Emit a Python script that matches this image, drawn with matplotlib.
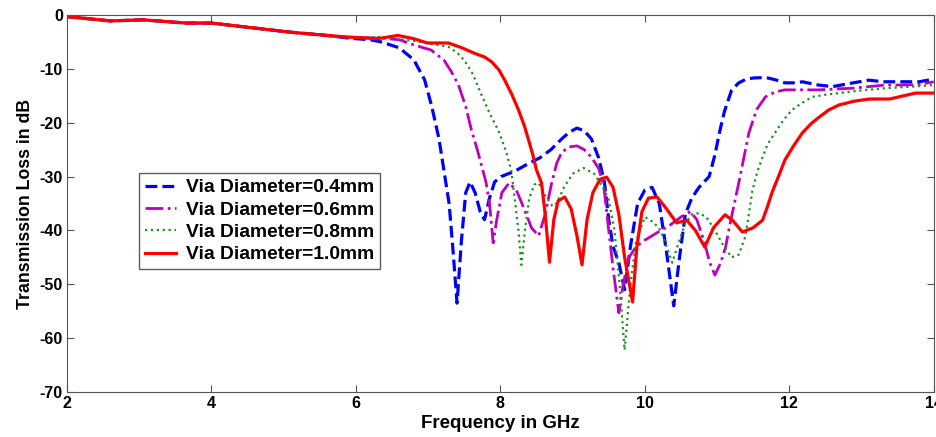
import numpy as np
from matplotlib import pyplot as plt

plt.rcParams['font.family'] = ['Liberation Sans', 'DejaVu Sans']
plt.rcParams['font.weight'] = 'bold'
plt.rcParams['axes.unicode_minus'] = False

# frequency (GHz) and transmission loss (dB)
f_04 = [2.0, 2.6, 3.05, 3.65, 4.0, 4.45, 5.1, 5.6, 5.9, 6.2, 6.35, 6.6, 6.8, 6.95, 7.05, 7.15, 7.22,
        7.29, 7.34, 7.40, 7.46, 7.52, 7.58, 7.65, 7.72, 7.78, 7.85, 7.92, 8.01, 8.2, 8.4, 8.55, 8.7,
        8.85, 8.95, 9.06, 9.16, 9.26, 9.36, 9.44, 9.5, 9.56, 9.64, 9.72, 9.8, 9.9, 10.0, 10.1, 10.2,
        10.3, 10.4, 10.48, 10.56, 10.65, 10.75, 10.89, 10.97, 11.03, 11.1, 11.2, 11.3, 11.39, 11.5,
        11.67, 11.8, 11.94, 12.1, 12.18, 12.4, 12.6, 12.8, 13.1, 13.3, 13.57, 13.8, 14.0]
s_04 = [-0.3, -1.1, -0.9, -1.5, -1.5, -2.2, -3.2, -3.8, -4.3, -4.6, -5.0, -6.1, -8.3, -12, -17, -23, -29,
        -35, -43, -53.5, -42, -33, -31, -33, -36.5, -38, -34, -31, -30, -29, -27.5, -26.5, -25,
        -23, -21.8, -21.0, -21.5, -23, -26.5, -31, -38, -43, -46, -51, -43, -35, -32.5, -32, -35,
        -44, -54, -45, -37, -34, -32, -30, -26, -22, -18, -14, -12.6, -12, -11.7,
        -11.6, -12, -12.6, -12.6, -12.4, -13, -13.3, -12.8, -12.1, -12.4, -12.4, -12.4, -11.9]

f_06 = [2.0, 2.6, 3.05, 3.65, 4.0, 4.45, 5.1, 5.6, 5.9, 6.35, 6.6, 6.81, 7.04, 7.22, 7.32, 7.42, 7.52,
        7.6, 7.68, 7.74, 7.8, 7.85, 7.9, 7.95, 8.02, 8.12, 8.22, 8.33, 8.43, 8.53, 8.62, 8.71, 8.78,
        8.85, 8.95, 9.06, 9.16, 9.26, 9.36, 9.43, 9.5, 9.56, 9.64, 9.7, 9.78, 9.88, 10.0, 10.1, 10.22,
        10.35, 10.5, 10.63, 10.72, 10.82, 10.9, 10.97, 11.05, 11.12, 11.17, 11.3, 11.44, 11.55, 11.67,
        11.8, 11.94, 12.2, 12.42, 12.7, 12.88, 13.1, 13.33, 13.6, 13.8, 14.0]
s_06 = [-0.3, -1.1, -0.9, -1.5, -1.5, -2.2, -3.2, -3.8, -4.2, -4.3, -4.6, -5.6, -6.5, -8.4, -10.5, -13, -17,
        -21.4, -25, -28, -31, -35, -42.3, -38, -33, -31.2, -32.5, -36, -39.5, -41, -37, -31.2, -27.5,
        -25.5, -24.5, -24.3, -25, -26.4, -28.5, -31.6, -40, -47, -55.3, -50, -45, -43, -41.8, -41, -40,
        -39, -37.5, -36.5, -38, -42, -46, -48.3, -46, -43, -39.4, -31.2, -21.9, -17.5, -15.2,
        -14.3, -13.9, -13.9, -13.9, -13.7, -13.6, -13.3, -13, -13, -12.9, -12.4]

f_08 = [2.0, 2.6, 3.05, 3.65, 4.0, 4.45, 5.1, 5.6, 5.9, 6.35, 6.8, 7.28, 7.4, 7.5, 7.62, 7.74, 7.86,
        7.97, 8.07, 8.15, 8.2, 8.25, 8.29, 8.34, 8.4, 8.47, 8.53, 8.62, 8.72, 8.78, 8.88, 9.0, 9.15,
        9.3, 9.42, 9.5, 9.58, 9.65, 9.72, 9.8, 9.88, 10.0, 10.12, 10.22, 10.3, 10.38, 10.45, 10.55,
        10.65, 10.75, 10.85, 10.97, 11.07, 11.2, 11.3, 11.39, 11.44, 11.49, 11.56, 11.63, 11.7, 11.8,
        11.92, 12.04, 12.18, 12.32, 12.5, 12.69, 13.0, 13.33, 13.7, 14.0]
s_08 = [-0.3, -1.1, -0.9, -1.5, -1.5, -2.2, -3.2, -3.8, -4.2, -4.1, -4.8, -5.9, -7, -8.4, -11, -14.9, -18.5,
        -21.4, -25, -28.8, -34.3, -40, -46.4, -40, -34, -31.5, -31.2, -33.5, -35.5, -35, -32, -29.5, -28.4,
        -29.5, -32, -34.3, -40, -50, -62.2, -50, -42, -37.5, -38.5, -40, -43, -46, -43, -39,
        -37, -36.8, -37.5, -40, -42.4, -45, -44.5, -41.2, -37, -32.5, -29, -26.4, -24, -21.9,
        -19.5, -17.6, -16.3, -15.2, -14.8, -14.5, -14, -13.6, -13.3, -13]

f_10 = [2.0, 2.6, 3.05, 3.65, 4.0, 4.45, 5.1, 5.6, 5.9, 6.3, 6.58, 6.8, 6.99, 7.28, 7.45, 7.64, 7.78,
        7.88, 7.98, 8.06, 8.16, 8.25, 8.33, 8.39, 8.45, 8.5, 8.57, 8.62, 8.68, 8.74, 8.8, 8.89, 8.98,
        9.06, 9.13, 9.2, 9.28, 9.38, 9.47, 9.56, 9.64, 9.72, 9.83, 9.89, 9.96, 10.05, 10.17, 10.3,
        10.44, 10.58, 10.7, 10.83, 10.95, 11.11, 11.22, 11.35, 11.5, 11.63, 11.7, 11.76, 11.85, 11.94,
        12.05, 12.18, 12.3, 12.42, 12.55, 12.69, 12.9, 13.11, 13.39, 13.55, 13.75, 14.0]
s_10 = [-0.3, -1.1, -0.9, -1.5, -1.5, -2.2, -3.2, -3.8, -4.1, -4.4, -3.8, -4.4, -5.2, -5.2, -6, -7.1, -7.8,
        -8.7, -10.2, -12.1, -14.8, -17.6, -20.5, -23.2, -26, -28.8, -31.2, -37, -45.9, -38, -34.5, -33.8, -36,
        -41, -46.4, -38, -33, -30.5, -30.1, -32, -37, -45, -53.3, -43, -36.5, -34, -33.8, -36,
        -38.6, -38.1, -40, -43.1, -39.5, -37.1, -38.2, -40.3, -39.5, -38.1, -35.5, -33, -30, -26.9,
        -24.5, -21.9, -20.2, -18.9, -17.6, -16.7, -16, -15.6, -15.6, -15.1, -14.5, -14.5]

labels = ['Via Diameter=0.4mm', 'Via Diameter=0.6mm', 'Via Diameter=0.8mm', 'Via Diameter=1.0mm']

fig = plt.figure(figsize=(9.36, 4.37), dpi=100)
ax = fig.add_axes([0.0716, 0.103, 0.926, 0.8627])

ax.plot(f_04, s_04, color='#0000ff', linestyle='--', linewidth=2.3, label=labels[0])
ax.plot(f_06, s_06, color='#bf00bf', linestyle='-.', linewidth=2.0, label=labels[1])
ax.plot(f_08, s_08, color='#1f8f1f', linestyle=':', linewidth=1.6, label=labels[2])
ax.plot(f_10, s_10, color='#ff0000', linestyle='-', linewidth=2.3, label=labels[3])

ax.set_xlim(2, 14)
ax.set_ylim(-70, 0)
ax.set_xticks([2, 4, 6, 8, 10, 12, 14])
ax.set_yticks(np.arange(-70, 1, 10))
ax.tick_params(direction='in', top=True, right=True, labelsize=11.5, length=5, color='#555555', pad=3)
for lab in ax.get_xticklabels() + ax.get_yticklabels():
	lab.set_fontweight('bold')
for sp in ax.spines.values():
	sp.set_color('#555555')

ax.set_xlabel('Frequency in GHz', fontsize=13.5, fontweight='bold', labelpad=3)
ax.set_ylabel('Transmission Loss in dB', fontsize=12.8, fontweight='bold', labelpad=4)

leg = ax.legend(loc='upper left', bbox_to_anchor=(0.083, 0.581), fontsize=13.9, frameon=True,
                fancybox=False, edgecolor='#333333', handlelength=1.6, borderpad=0.3,
                labelspacing=0.25, handletextpad=0.55, borderaxespad=0)
leg.get_frame().set_linewidth(1.0)
for t in leg.get_texts():
	t.set_fontweight('bold')

fig.savefig('out.png', dpi=100)
